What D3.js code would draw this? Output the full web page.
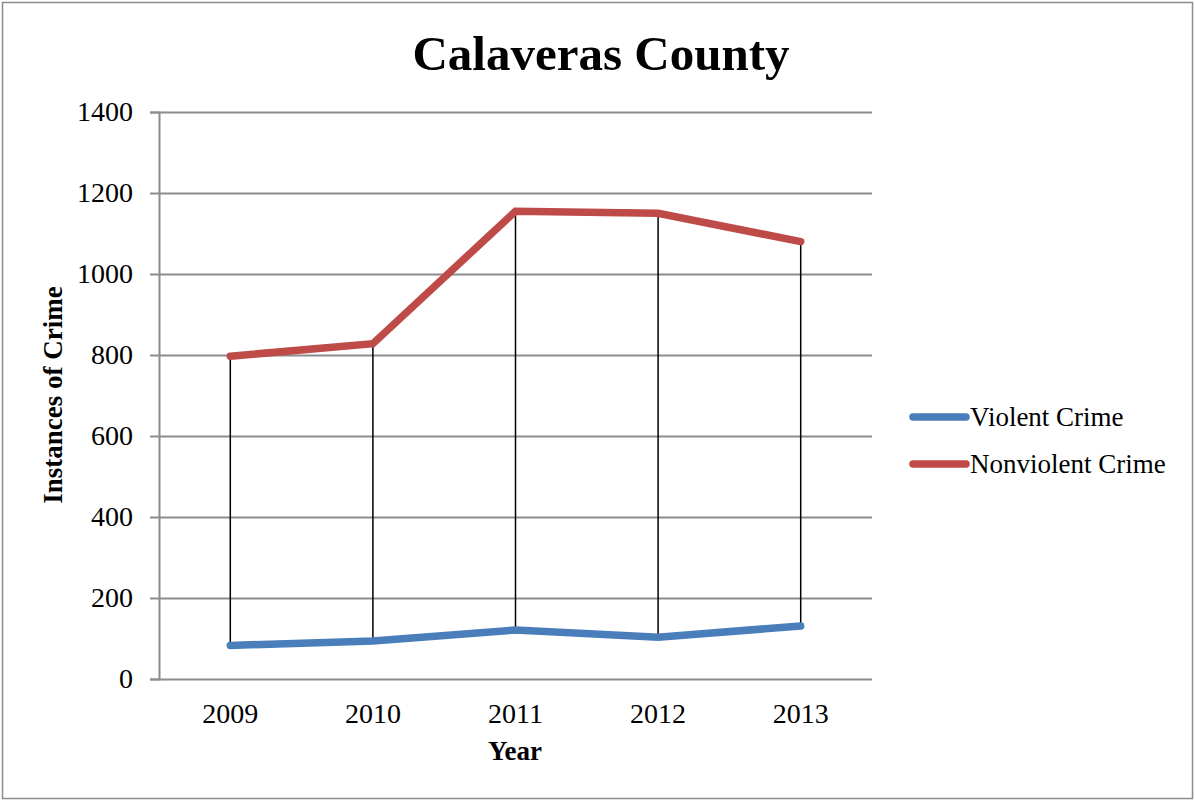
<!DOCTYPE html>
<html>
<head>
<meta charset="utf-8">
<script src="https://cdn.jsdelivr.net/npm/d3@7"></script>
<style>
  html, body { margin: 0; padding: 0; background: #fff; }
  svg { display: block; }
  text { font-family: "Liberation Serif", "DejaVu Serif", serif; fill: #000; }
</style>
</head>
<body>
<svg id="chart" width="1195" height="800"></svg>
<script>
// Yearly crime counts, Calaveras County
const years = ["2009", "2010", "2011", "2012", "2013"];
const violentCrime = [83, 94, 121, 103, 131];
const nonviolentCrime = [797, 828, 1155, 1150, 1080];
const yTicks = [0, 200, 400, 600, 800, 1000, 1200, 1400];
const seriesNames = ["Violent Crime", "Nonviolent Crime"];
const seriesColors = ["#4a7ebb", "#be4b48"];

const svg = d3.select("#chart");
const W = 1195, H = 800;
const plot = { left: 159, right: 872, top: 112, bottom: 679 };

// outer frame
svg.append("rect")
  .attr("x", 2.5).attr("y", 2.5)
  .attr("width", W - 5).attr("height", H - 4)
  .attr("fill", "#fff").attr("stroke", "#8c8c8c").attr("stroke-width", 1.5);

const x = d3.scaleBand().domain(years).range([plot.left, plot.right]);
const y = d3.scaleLinear().domain([0, 1400]).range([plot.bottom, plot.top]);
const cx = d => x(d) + x.bandwidth() / 2;

// horizontal gridlines + left tick marks
const yAxis = d3.axisLeft(y).tickValues(yTicks).tickSize(9).tickPadding(17).tickFormat(d3.format("d"));
const gy = svg.append("g").attr("transform", `translate(${plot.left},0)`).call(yAxis);
gy.select(".domain").attr("stroke", "#8c8c8c").attr("stroke-width", 2);
gy.selectAll(".tick line").attr("stroke", "#8c8c8c").attr("stroke-width", 2);
gy.selectAll(".tick text").style("font-size", "28px").attr("font-family", "Liberation Serif").attr("fill", "#000");
gy.selectAll(".tick").append("line")
  .attr("x1", 0).attr("x2", plot.right - plot.left)
  .attr("stroke", "#8c8c8c").attr("stroke-width", 2);

// category axis labels
const xAxis = d3.axisBottom(x).tickSize(0).tickPadding(24);
const gx = svg.append("g").attr("transform", `translate(0,${plot.bottom})`).call(xAxis);
gx.select(".domain").remove();
gx.selectAll(".tick text").style("font-size", "28px").attr("font-family", "Liberation Serif").attr("fill", "#000");

// high-low lines between the two series
svg.append("g").selectAll("line.hilo")
  .data(years)
  .join("line")
  .attr("class", "hilo")
  .attr("x1", d => cx(d)).attr("x2", d => cx(d))
  .attr("y1", (d, i) => y(nonviolentCrime[i]))
  .attr("y2", (d, i) => y(violentCrime[i]))
  .attr("stroke", "#000").attr("stroke-width", 1.5);

// series lines
const line = d3.line().x(d => cx(d.year)).y(d => y(d.value));
[violentCrime, nonviolentCrime].forEach((vals, k) => {
  const pts = years.map((yr, i) => ({ year: yr, value: vals[i] }));
  svg.append("path")
    .datum(pts)
    .attr("d", line)
    .attr("fill", "none")
    .attr("stroke", seriesColors[k])
    .attr("stroke-width", 7.5)
    .attr("stroke-linecap", "round")
    .attr("stroke-linejoin", "miter");
});

// title
svg.append("text")
  .attr("x", 601).attr("y", 70)
  .attr("text-anchor", "middle")
  .style("font-size", "49px").style("font-weight", "bold")
  .text("Calaveras County");

// axis titles
svg.append("text")
  .attr("transform", "translate(62,395) rotate(-90)")
  .attr("text-anchor", "middle")
  .style("font-size", "27px").style("font-weight", "bold")
  .text("Instances of Crime");

svg.append("text")
  .attr("x", 515).attr("y", 760)
  .attr("text-anchor", "middle")
  .style("font-size", "27px").style("font-weight", "bold")
  .text("Year");

// legend
const legend = svg.append("g");
seriesNames.forEach((name, k) => {
  const ly = 417 + k * 47;
  legend.append("line")
    .attr("x1", 913).attr("x2", 966)
    .attr("y1", ly).attr("y2", ly)
    .attr("stroke", seriesColors[k]).attr("stroke-width", 7.5)
    .attr("stroke-linecap", "round");
  legend.append("text")
    .attr("x", 970).attr("y", ly + 9)
    .style("font-size", "27px")
    .text(name);
});
</script>
</body>
</html>
